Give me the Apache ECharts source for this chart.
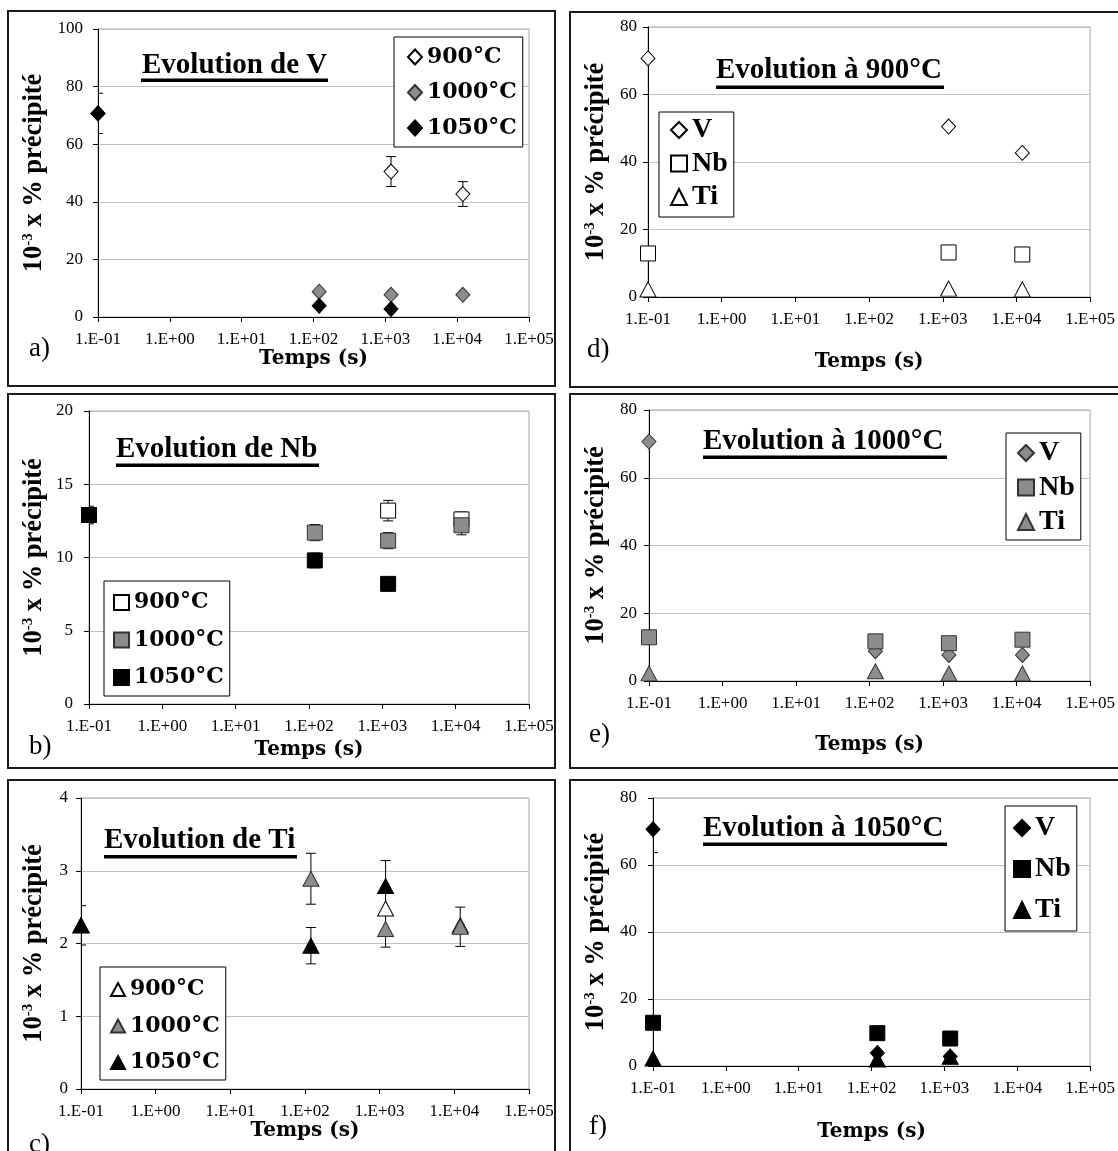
<!DOCTYPE html>
<html><head><meta charset="utf-8">
<script src="https://cdn.jsdelivr.net/npm/echarts@6/dist/echarts.min.js"></script>
<style>html,body{margin:0;padding:0;background:#fff}#c{width:1118px;height:1151px}</style>
</head><body><div id="c"></div>
<script>
// ---------------- DATA ----------------
const times = [0.1, 120, 1200, 12000];               // s
const xTickLabels = ['1.E-01','1.E+00','1.E+01','1.E+02','1.E+03','1.E+04','1.E+05'];
const tempNames = ['900°C', '1000°C', '1050°C'];
const elemNames = ['V', 'Nb', 'Ti'];
// 10^-3 x % précipité, aligned with times (null = not measured)
const V900  = [70.7, null, 50.5, 42.7];
const V1000 = [70.7, 8.8, 7.7, 7.7];
const V1050 = [70.7, 3.9, 2.8, null];
const Nb900  = [12.9, null, 13.2, 12.6];
const Nb1000 = [12.9, 11.7, 11.15, 12.2];
const Nb1050 = [12.9, 9.8, 8.2, null];
const Ti900  = [2.25, null, 2.48, 2.25];
const Ti1000 = [2.25, 2.89, 2.2, 2.23];
const Ti1050 = [2.25, 1.97, 2.79, null];
// error half-widths (0 = no bar shown)
const V900err  = [0, 0, 5.2, 4.3];
const V1000err = [0, 0, 0, 0];
const V1050err = [7.0, 0, 0, 0];
const Nb900err  = [0, 0, 0.7, 0.5];
const Nb1000err = [0, 0.55, 0.55, 0.65];
const Nb1050err = [0.6, 0.5, 0, 0];
const Ti900err  = [0, 0, 0, 0];
const Ti1000err = [0, 0.35, 0.25, 0.27];
const Ti1050err = [0.27, 0.25, 0.35, 0];
const yAxisTitle = '{n|10}{s|-3}{n| x % précipité}';
const xAxisTitle = 'Temps (s)';
const panelTitles = ['Evolution de V', 'Evolution de Nb', 'Evolution de Ti',
                     'Evolution à 900°C', 'Evolution à 1000°C', 'Evolution à 1050°C'];
const panelTags = ['a)', 'b)', 'c)', 'd)', 'e)', 'f)'];

// ---------------- STYLE / LAYOUT ----------------
const SERIF = '"Liberation Serif", "Times New Roman", serif';
const LEG = '"DejaVu Serif", serif';
const STY = {
  w: {color: '#ffffff', borderColor: '#000', borderWidth: 1, opacity: 1},
  g: {color: '#8c8c8c', borderColor: '#333', borderWidth: 1, opacity: 1},
  k: {color: '#000000', borderColor: '#000', borderWidth: 1, opacity: 1}
};
const SYM = {diamond: {s: 'diamond', size: [14, 15]}, square: {s: 'rect', size: [15, 15]}, tri: {s: 'triangle', size: [16, 15]}};

function pts(v) { return times.map((t, i) => v[i] == null ? null : [t, v[i]]).filter(Boolean); }
function errs(v, e) { return times.map((t, i) => (v[i] == null || !e || !e[i]) ? null : [t, v[i] - e[i], v[i] + e[i]]).filter(Boolean); }

const panels = [
  { grid: {left: 98, top: 29, width: 431, height: 288}, ymax: 100, yint: 20, ylm: 15, ngy: 50, ngx: 31,
    legend: {left: 394, top: 37, padding: [8, 6, 7, 13], lh: 24, gap: 11.5, font: LEG, size: 22, iw: 14, ih: 15},
    title: {x: 142, y: 66, ux1: 141, ux2: 328, uy: 78.5},
    tag: {x: 29, y: 349}, frame: [8, 11, 547, 375],
    series: [
      {name: tempNames[0], v: V900, e: V900err, sym: 'diamond', sty: 'w'},
      {name: tempNames[1], v: V1000, e: V1000err, sym: 'diamond', sty: 'g'},
      {name: tempNames[2], v: V1050, e: V1050err, sym: 'diamond', sty: 'k'}]},
  { grid: {left: 89, top: 411, width: 440, height: 293}, ymax: 20, yint: 5, ylm: 16, ngy: 41, ngx: 36,
    legend: {left: 104, top: 581, padding: [9, 6, 6, 9], lh: 25, gap: 12.5, font: LEG, size: 22, iw: 15, ih: 15},
    title: {x: 116, y: 450, ux1: 116, ux2: 319, uy: 463.5},
    tag: {x: 29, y: 747}, frame: [8, 394, 547, 374],
    series: [
      {name: tempNames[0], v: Nb900, e: Nb900err, sym: 'square', sty: 'w'},
      {name: tempNames[1], v: Nb1000, e: Nb1000err, sym: 'square', sty: 'g'},
      {name: tempNames[2], v: Nb1050, e: Nb1050err, sym: 'square', sty: 'k'}]},
  { grid: {left: 81, top: 798, width: 448, height: 291}, ymax: 4, yint: 1, ylm: 13, ngy: 33, ngx: 28,
    legend: {left: 100, top: 967, padding: [10, 6, 5, 10], lh: 25, gap: 11.5, font: LEG, size: 22, iw: 14, ih: 13},
    title: {x: 104, y: 841, ux1: 104, ux2: 297, uy: 855},
    tag: {x: 29, y: 1145}, frame: [8, 780, 547, 420],
    series: [
      {name: tempNames[0], v: Ti900, e: Ti900err, sym: 'tri', sty: 'w'},
      {name: tempNames[1], v: Ti1000, e: Ti1000err, sym: 'tri', sty: 'g'},
      {name: tempNames[2], v: Ti1050, e: Ti1050err, sym: 'tri', sty: 'k'}]},
  { grid: {left: 648, top: 27, width: 444, height: 270}, ymax: 80, yint: 20, ylm: 11, ngy: 38, ngx: 55,
    legend: {left: 659, top: 112, padding: [4, 6, 6, 11], lh: 28, gap: 5.5, font: SERIF, size: 28, iw: 16, ih: 16},
    title: {x: 716, y: 71, ux1: 716, ux2: 944, uy: 85.5},
    tag: {x: 587, y: 350}, frame: [570, 12, 560, 375],
    series: [
      {name: elemNames[0], v: V900, sym: 'diamond', sty: 'w'},
      {name: elemNames[1], v: Nb900, sym: 'square', sty: 'w'},
      {name: elemNames[2], v: Ti900, sym: 'tri', sty: 'w'}]},
  { grid: {left: 649, top: 410, width: 443, height: 271}, ymax: 80, yint: 20, ylm: 12, ngy: 39, ngx: 54,
    legend: {left: 1006, top: 433, padding: [6, 6, 4, 11], lh: 28, gap: 6.5, font: SERIF, size: 28, iw: 16, ih: 16},
    title: {x: 703, y: 442, ux1: 703, ux2: 947, uy: 455.5},
    tag: {x: 589, y: 735}, frame: [570, 394, 560, 374],
    series: [
      {name: elemNames[0], v: V1000, sym: 'diamond', sty: 'g'},
      {name: elemNames[1], v: Nb1000, sym: 'square', sty: 'g'},
      {name: elemNames[2], v: Ti1000, sym: 'tri', sty: 'g'}]},
  { grid: {left: 653, top: 798, width: 439, height: 268}, ymax: 80, yint: 20, ylm: 16, ngy: 43, ngx: 56,
    legend: {left: 1005, top: 806, padding: [8, 6, 7, 8], lh: 28, gap: 13, font: SERIF, size: 28, iw: 16, ih: 16},
    title: {x: 703, y: 829, ux1: 703, ux2: 947, uy: 842.5},
    tag: {x: 589, y: 1127}, frame: [570, 780, 560, 420],
    series: [
      {name: elemNames[0], v: V1050, e: V1050err, sym: 'diamond', sty: 'k', lowerOnly: true},
      {name: elemNames[1], v: Nb1050, sym: 'square', sty: 'k'},
      {name: elemNames[2], v: Ti1050, sym: 'tri', sty: 'k'}]}
];

function renderErr(params, api) {
  const x = api.value(0);
  const lo = api.coord([x, api.value(1)]);
  const hi = api.coord([x, api.value(2)]);
  const w = 5;
  const st = {stroke: '#000', lineWidth: 1};
  return {type: 'group', children: [
    {type: 'line', shape: {x1: lo[0], y1: lo[1], x2: hi[0], y2: hi[1]}, style: st},
    {type: 'line', shape: {x1: lo[0] - w, y1: lo[1], x2: lo[0] + w, y2: lo[1]}, style: st},
    {type: 'line', shape: {x1: hi[0] - w, y1: hi[1], x2: hi[0] + w, y2: hi[1]}, style: st}
  ]};
}
function renderErrLower(params, api) {
  const x = api.value(0);
  const lo = api.coord([x, api.value(1)]);
  const mid = api.coord([x, (api.value(1) + api.value(2)) / 2]);
  const st = {stroke: '#000', lineWidth: 1};
  return {type: 'group', children: [
    {type: 'line', shape: {x1: lo[0], y1: lo[1], x2: mid[0], y2: mid[1]}, style: st},
    {type: 'line', shape: {x1: lo[0] - 5, y1: lo[1], x2: lo[0] + 5, y2: lo[1]}, style: st}]};
}

const grids = [], xAxes = [], yAxes = [], series = [], legends = [], graphics = [];
const labelMap = {};
panels.forEach((p, pi) => {
  grids.push(Object.assign({show: true, borderColor: '#a6a6a6', borderWidth: 1, backgroundColor: '#fff'}, p.grid));
  xAxes.push({
    type: 'log', logBase: 10, min: 0.1, max: 100000, gridIndex: pi,
    name: xAxisTitle, nameLocation: 'middle', nameGap: p.ngx,
    nameTextStyle: {fontFamily: LEG, fontWeight: 'bold', fontSize: 20, color: '#000'},
    axisLine: {onZero: false, lineStyle: {color: '#000', width: 1}},
    axisTick: {show: true, inside: false, length: 5, lineStyle: {color: '#000'}},
    minorTick: {show: false}, splitLine: {show: false},
    axisLabel: {fontFamily: SERIF, fontSize: 17, color: '#000', margin: 14,
      formatter: v => xTickLabels[Math.round(Math.log10(v)) + 1] || ''}
  });
  yAxes.push({
    type: 'value', min: 0, max: p.ymax, interval: p.yint, gridIndex: pi,
    name: yAxisTitle, nameLocation: 'middle', nameRotate: 90, nameGap: p.ngy,
    nameTextStyle: {rich: {
      n: {fontFamily: SERIF, fontWeight: 'bold', fontSize: 26.5, color: '#000'},
      s: {fontFamily: SERIF, fontWeight: 'bold', fontSize: 15, color: '#000', verticalAlign: 'top', lineHeight: 15}
    }},
    axisLine: {show: true, lineStyle: {color: '#000', width: 1}},
    axisTick: {show: true, inside: false, length: 5, lineStyle: {color: '#000'}},
    splitLine: {show: true, lineStyle: {color: '#c0c0c0', width: 1}},
    axisLabel: {fontFamily: SERIF, fontSize: 17, color: '#000', margin: p.ylm}
  });
  const legNames = [];
  p.series.forEach((s, si) => {
    const uid = 'p' + pi + '_' + si;
    labelMap[uid] = s.name;
    legNames.push(uid);
    const e = errs(s.v, s.e);
    if (e.length) {
      series.push({
        type: 'custom', name: uid + '_err', xAxisIndex: pi, yAxisIndex: pi, z: 1, clip: true,
        renderItem: s.lowerOnly ? renderErrLower : renderErr,
        encode: {x: 0, y: [1, 2]}, data: e, silent: true
      });
    }
    series.push({
      type: 'scatter', name: uid, xAxisIndex: pi, yAxisIndex: pi, z: 2 + si, clip: false,
      symbol: SYM[s.sym].s, symbolSize: SYM[s.sym].size,
      itemStyle: Object.assign({}, STY[s.sty]), emphasis: {disabled: true},
      data: pts(s.v)
    });
  });
  const L = p.legend;
  legends.push({
    orient: 'vertical', left: L.left, top: L.top, padding: L.padding, itemGap: L.gap,
    itemWidth: L.iw, itemHeight: L.ih, selectedMode: false,
    backgroundColor: '#fff', borderColor: '#000', borderWidth: 1,
    data: legNames, formatter: n => labelMap[n],
    itemStyle: {opacity: 1},
    textStyle: {fontFamily: L.font, fontWeight: 'bold', fontSize: L.size, lineHeight: L.lh, color: '#000'}
  });
  graphics.push({type: 'rect', shape: {x: p.frame[0], y: p.frame[1], width: p.frame[2], height: p.frame[3]},
    style: {fill: null, stroke: '#1a1a1a', lineWidth: 2}, silent: true, z: 100});
  graphics.push({type: 'text', x: p.title.x, y: p.title.y, silent: true, z: 100,
    style: {text: panelTitles[pi], fontFamily: SERIF, fontWeight: 'bold', fontSize: 29, fill: '#000',
      textAlign: 'left', textVerticalAlign: 'middle'}});
  graphics.push({type: 'rect', shape: {x: p.title.ux1, y: p.title.uy, width: p.title.ux2 - p.title.ux1, height: 3.5},
    style: {fill: '#000'}, silent: true, z: 100});
  graphics.push({type: 'text', x: p.tag.x, y: p.tag.y, silent: true, z: 100,
    style: {text: panelTags[pi], fontFamily: SERIF, fontSize: 27, fill: '#000',
      textAlign: 'left', textVerticalAlign: 'middle'}});
});

const chart = echarts.init(document.getElementById('c'), null, {renderer: 'canvas'});
chart.setOption({
  animation: false,
  backgroundColor: '#fff',
  grid: grids, xAxis: xAxes, yAxis: yAxes, series: series, legend: legends,
  graphic: graphics
});
</script></body></html>
